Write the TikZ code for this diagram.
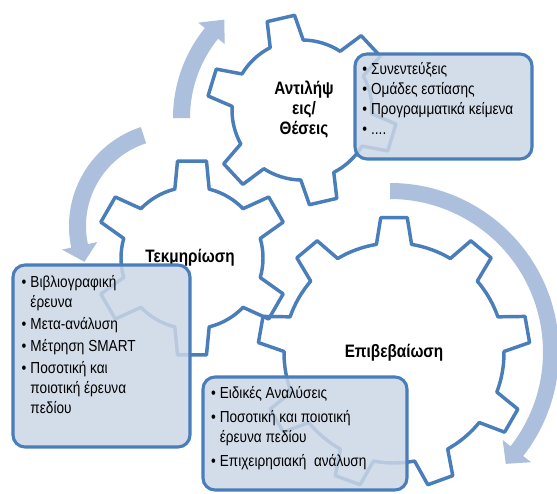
\documentclass[tikz,border=0pt]{standalone}
\usepackage{fontspec}
\newfontfamily\diagfont[FakeStretch=0.85]{Liberation Sans}
\usetikzlibrary{positioning,fit}
\definecolor{gearblue}{RGB}{74,126,187}
\definecolor{arrowblue}{RGB}{172,191,220}
\definecolor{boxfill}{RGB}{204,215,230}
% #1 style, #2 centre, #3 teeth, #4 first tooth, #5 tip radius, #6 root radius, #7 half tip, #8 half base
\newcommand{\gear}[8]{%
  \path[#1,shift={#2}] ({#4-#8}:#6)
    \foreach \k in {1,...,#3}{
      -- ({#4+(\k-1)*360/#3-#7}:#5) -- ({#4+(\k-1)*360/#3+#7}:#5) -- ({#4+(\k-1)*360/#3+#8}:#6)
      arc[start angle={#4+(\k-1)*360/#3+#8}, delta angle={360/#3-2*#8}, radius=#6]
    } -- cycle;}
% #1 centre, #2 mid radius, #3 half width, #4 tail, #5 head base, #6 tip, #7 head half width
\newcommand{\bendarrow}[7]{%
  \fill[arrowblue,shift={#1}] ({#4}:{#2+#3}) arc[start angle=#4, end angle=#5, radius={#2+#3}]
    -- ({#5}:{#2+#7}) -- ({#6}:{#2}) -- ({#5}:{#2-#7}) -- ({#5}:{#2-#3})
    arc[start angle=#5, end angle=#4, radius={#2-#3}] -- cycle;}
\newcommand{\bul}{\textbullet\hspace{3pt}}
\newcommand{\cont}{\phantom{\textbullet}\hspace{3pt}}

\begin{document}
\begin{tikzpicture}[x=0.75pt,y=-0.75pt,
  gearfill/.style={fill=white},
  gearline/.style={draw=gearblue,line width=2.6pt,line join=round},
  gearlabel/.style={font=\diagfont\bfseries\fontsize{13.5}{15}\selectfont,align=center},
  infobox/.style={draw=gearblue,line width=2.3pt,rounded corners=9pt,fill=boxfill,fill opacity=0.85,inner sep=0pt},
  listtext/.style={font=\diagfont\fontsize{12}{15}\selectfont,align=left,inner sep=0pt}]
\useasboundingbox (0,0) rectangle (557,493);
\fill[white] (0,0) rectangle (557,493);

\bendarrow{(316,118)}{134.5}{8.5}{180}{219}{227}{17}
\bendarrow{(173,226)}{95.5}{8.5}{252}{168}{158}{18}
\bendarrow{(390,352)}{161}{8}{270}{398}{404}{18}

\gear{gearfill}{(302,110)}{6}{257}{95}{70}{8.5}{14}
\gear{gearfill}{(192,258)}{6}{270}{98}{71}{8.5}{14}
\gear{gearfill}{(394,353)}{9}{270}{136}{110}{5.6}{9.2}
\gear{gearline}{(302,110)}{6}{257}{95}{70}{8.5}{14}
\gear{gearline}{(192,258)}{6}{270}{98}{71}{8.5}{14}
\gear{gearline}{(394,353)}{9}{270}{136}{110}{5.6}{9.2}

\node[gearlabel] (Perc) at (304,110) {Αντιλήψ\\εις/\\Θέσεις};
\node[gearlabel] (Doc) at (190,258) {Τεκμηρίωση};
\node[gearlabel] (Ver) at (394,353) {Επιβεβαίωση};

\node[infobox, fit={(355,54) (532,159)}] (PercBox) {};
\node[listtext, below right=7pt and 6.5pt of PercBox.north west] (PercList)
  {\bul Συνεντεύξεις\\ \bul Ομάδες εστίασης\\ \bul Προγραμματικά κείμενα\\ \bul ....};
\node[infobox, fit={(13,265) (190,447)}] (DocBox) {};
\node[listtext, below right=9pt and 7.5pt of DocBox.north west] (DocList)
  {\bul Βιβλιογραφική\\ \cont έρευνα\\[1.5pt] \bul Μετα-ανάλυση\\[1.5pt] \bul Μέτρηση SMART\\[1.5pt]
   \bul Ποσοτική και\\ \cont ποιοτική έρευνα\\ \cont πεδίου};
\node[infobox, fit={(203,377) (407,490)}] (VerBox) {};
\node[listtext, below right=8pt and 7pt of VerBox.north west] (VerList)
  {\bul Ειδικές Αναλύσεις\\[3pt] \bul Ποσοτική και ποιοτική\\ \cont έρευνα πεδίου\\[3pt] \bul Επιχειρησιακή\ \ ανάλυση};
\end{tikzpicture}
\end{document}
